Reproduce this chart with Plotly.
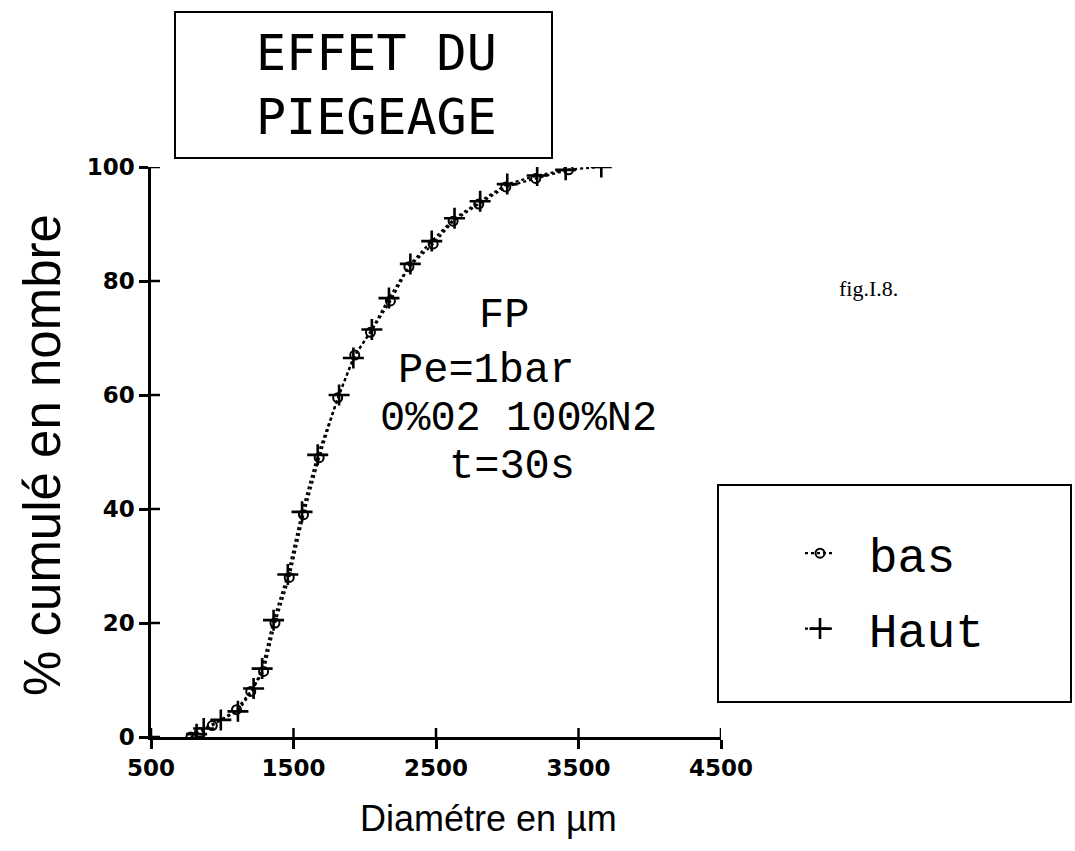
import plotly.graph_objects as go

# ---- data ----
haut_x = [820, 870, 990, 1110, 1220, 1280, 1360, 1460, 1560, 1670, 1820, 1920, 2050, 2170, 2320, 2470, 2630, 2810, 3000, 3210, 3410, 3660]
haut_y = [0.5, 1.5, 3, 4.5, 8.5, 12, 20.5, 28.5, 39.5, 49.5, 60, 66.5, 71.5, 77, 83, 87, 91, 94, 97, 98.5, 99.5, 100]
bas_x = [780, 840, 930, 1100, 1200, 1290, 1370, 1470, 1570, 1680, 1810, 1930, 2040, 2180, 2310, 2480, 2620, 2800, 2990, 3200, 3430]
bas_y = [0, 0.8, 2, 4.8, 8, 11.5, 20, 28, 39, 49, 59.5, 67, 71, 76.5, 82.5, 86.5, 90.5, 93.5, 96.5, 98, 99.5]

x_ticks = [500, 1500, 2500, 3500, 4500]
y_ticks = [0, 20, 40, 60, 80, 100]

series_names = ["bas", "Haut"]
title_lines = ["EFFET DU", "PIEGEAGE"]
info_lines = ["FP", "Pe=1bar", "0%02 100%N2", "t=30s"]
fig_label = "fig.I.8."
x_title = "Diamétre en µm"
y_title = "% cumulé en nombre"

# ---- layout geometry (pixels) ----
W, H = 1075, 851
L, R, T, B = 151, 721, 167, 737
pw, ph = R - L, B - T


def px(x):
    return (x - L) / pw


def py(y):
    return (B - y) / ph


NB = "\u00a0"

fig = go.Figure()
fig.add_trace(go.Scatter(
    x=bas_x, y=bas_y, name=NB + series_names[0], mode="lines+markers",
    line=dict(color="black", width=2.2, dash="dot"),
    marker=dict(symbol="circle-open", size=9, color="black", line=dict(width=2, color="black")),
    legendgroup="a"))
fig.add_trace(go.Scatter(
    x=haut_x, y=haut_y, name=NB + series_names[1], mode="lines+markers",
    line=dict(color="black", width=2.2, dash="dot"),
    marker=dict(symbol="cross-thin", size=15, color="black", line=dict(width=2.6, color="black")),
    legendgroup="b"))

tickfont = dict(family="DejaVu Sans", size=23, color="black", weight="bold")

fig.update_layout(
    width=W, height=H,
    margin=dict(l=L, r=W - R, t=T, b=H - B, pad=0),
    paper_bgcolor="white", plot_bgcolor="white",
    showlegend=True,
    legend=dict(x=px(800), y=py(591), xanchor="left", yanchor="middle",
                font=dict(family="Liberation Mono", size=48, color="black"),
                bgcolor="rgba(0,0,0,0)", borderwidth=0, tracegroupgap=10,
                itemwidth=30),
    xaxis=dict(range=[500, 4500], tickvals=x_ticks, ticktext=[str(v) for v in x_ticks],
               showgrid=False, zeroline=False, showline=True, linecolor="black", linewidth=2.5,
               ticks="outside", ticklen=9, tickwidth=2.5, tickcolor="black",
               tickfont=tickfont),
    yaxis=dict(range=[0, 100], tickvals=y_ticks, ticktext=[str(v) for v in y_ticks],
               showgrid=False, zeroline=False, showline=True, linecolor="black", linewidth=2.5,
               ticks="outside", ticklen=9, tickwidth=2.5, tickcolor="black",
               tickfont=tickfont),
)

shapes = []
# inner halves of the crossing ticks
for v in x_ticks:
    shapes.append(dict(type="line", xref="x", yref="paper", x0=v, x1=v, y0=0, y1=9 / ph,
                       line=dict(color="black", width=2.5)))
for v in y_ticks:
    shapes.append(dict(type="line", xref="paper", yref="y", x0=0, x1=9 / pw, y0=v, y1=v,
                       line=dict(color="black", width=2.5)))
# title box
shapes.append(dict(type="rect", xref="paper", yref="paper", x0=px(175), x1=px(552),
                   y0=py(158), y1=py(12), line=dict(color="black", width=2)))
# legend box
shapes.append(dict(type="rect", xref="paper", yref="paper", x0=px(718), x1=px(1071),
                   y0=py(702), y1=py(485), line=dict(color="black", width=2)))
fig.update_layout(shapes=shapes)

ann = []
for line, yc in zip(title_lines, [53, 117]):
    ann.append(dict(text=line, xref="paper", yref="paper", x=px(254), y=py(yc),
                    xanchor="left", yanchor="middle", showarrow=False,
                    font=dict(family="DejaVu Sans Mono", size=50, color="black")))
# (x, anchor, y) for each info line
info_pos = [(504, "center", 316), (396, "left", 371), (378, "left", 419), (512, "center", 467)]
for line, (xc, anc, yc) in zip(info_lines, info_pos):
    ann.append(dict(text=line, xref="paper", yref="paper", x=px(xc), y=py(yc),
                    xanchor=anc, yanchor="middle", showarrow=False,
                    font=dict(family="Liberation Mono", size=42, color="black")))
ann.append(dict(text=fig_label, xref="paper", yref="paper", x=px(868), y=py(288),
                xanchor="center", yanchor="middle", showarrow=False,
                font=dict(family="Liberation Serif", size=22, color="black")))
ann.append(dict(text=x_title, xref="paper", yref="paper", x=px(488), y=py(818),
                xanchor="center", yanchor="middle", showarrow=False,
                font=dict(family="Liberation Sans", size=36, color="black")))
ann.append(dict(text=y_title, xref="paper", yref="paper", x=px(42), y=py(455),
                xanchor="center", yanchor="middle", showarrow=False, textangle=-90,
                font=dict(family="Liberation Sans", size=51, color="black")))
fig.update_layout(annotations=ann)

fig.write_html("out.html")
